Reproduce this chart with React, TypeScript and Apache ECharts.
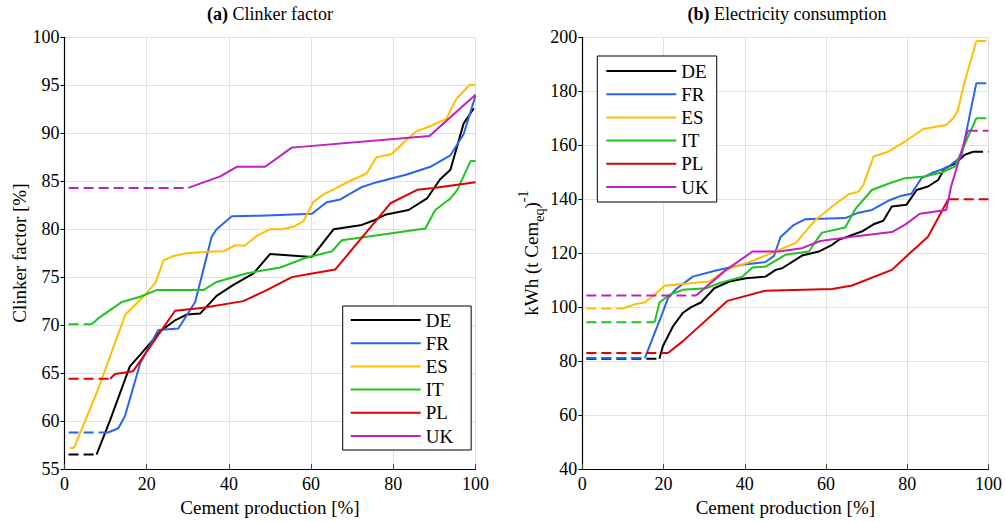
import React, { useEffect, useRef } from "react";
import * as echarts from "echarts";

// ---------- Data ----------
const COUNTRIES = ["DE", "FR", "ES", "IT", "PL", "UK"];

// (a) Clinker factor [%] vs cumulative cement production [%]
const CLK_DE_LEAD = [[1, 56.5], [7.8, 56.5]];
const CLK_DE = [[7.8, 56.5], [11.1, 60.1], [15.9, 65.7], [18.4, 66.9], [23.2, 69.3], [26.9, 70.5], [29.7, 71.1], [33.0, 71.2], [37.0, 73.05], [41.1, 74.2], [46.0, 75.4], [50.0, 77.4], [60.2, 77.1], [65.5, 80.0], [72.0, 80.4], [75.2, 80.9], [78.0, 81.5], [83.7, 82.0], [88.2, 83.2], [91.4, 85.2], [93.9, 86.2], [97.1, 91.0], [99.6, 92.6]];
const CLK_FR_LEAD = [[1, 58.8], [10.6, 58.8]];
const CLK_FR = [[10.6, 58.8], [13.1, 59.25], [14.7, 60.5], [18.4, 66.0], [22.8, 69.5], [27.7, 69.65], [31.8, 72.4], [35.8, 79.2], [37.0, 80.0], [40.7, 81.35], [47.6, 81.4], [60.2, 81.6], [63.8, 82.8], [67.1, 83.1], [72.4, 84.4], [76.0, 84.9], [83.3, 85.7], [89.0, 86.5], [93.9, 87.7], [97.1, 89.9], [100, 93.9]];
const CLK_ES_LEAD = [[1.3, 57.2], [2.3, 57.2]];
const CLK_ES = [[2.3, 57.2], [7.9, 63.0], [14.8, 71.1], [19.3, 73.0], [22.1, 74.4], [24.1, 76.75], [26.5, 77.2], [29.8, 77.5], [34.6, 77.65], [38.7, 77.7], [41.5, 78.3], [43.9, 78.3], [46.8, 79.3], [50.0, 80.0], [52.8, 80.0], [55.7, 80.25], [58.1, 80.8], [60.5, 82.8], [62.9, 83.6], [66.2, 84.3], [69.8, 85.1], [73.5, 85.8], [75.9, 87.5], [79.5, 87.8], [83.2, 89.3], [85.6, 90.2], [88.8, 90.7], [92.9, 91.5], [95.3, 93.56], [98.6, 95.05], [100, 95.05]];
const CLK_IT_LEAD = [[1, 70.1], [6.6, 70.1]];
const CLK_IT = [[6.6, 70.1], [8.2, 70.7], [13.9, 72.4], [18.4, 72.95], [22.4, 73.65], [33.8, 73.65], [37.0, 74.5], [44.4, 75.4], [52.5, 76.0], [58.6, 77.0], [65.1, 77.7], [67.5, 78.85], [87.8, 80.06], [90.2, 82.0], [93.9, 83.2], [95.5, 84.05], [98.8, 87.1], [100, 87.1]];
const CLK_PL_LEAD = [[1, 64.4], [11.1, 64.4]];
const CLK_PL = [[11.1, 64.4], [12.3, 64.9], [16.7, 65.2], [26.9, 71.5], [33.8, 71.8], [43.5, 72.5], [49.2, 73.65], [55.3, 75.0], [60.6, 75.4], [65.9, 75.8], [79.3, 82.7], [85.8, 84.1], [89.8, 84.3], [100, 84.9]];
const CLK_UK_LEAD = [[1, 84.3], [30.1, 84.3]];
const CLK_UK = [[30.1, 84.3], [37.9, 85.5], [41.9, 86.5], [48.8, 86.5], [55.3, 88.5], [88.8, 89.7], [100, 94.0]];

// (b) Electricity consumption [kWh (t Cem_eq)^-1]
const ELC_DE_LEAD = [[1, 80.85], [19.0, 80.85]];
const ELC_DE = [[19.0, 80.85], [19.8, 85.4], [22.3, 92.8], [24.7, 97.8], [26.8, 100.0], [29.2, 101.7], [32.5, 107.0], [36.2, 109.5], [40.3, 110.7], [45.1, 111.3], [47.6, 113.8], [49.2, 114.4], [54.1, 119.1], [58.2, 120.6], [61.5, 123.1], [63.1, 124.9], [68.8, 128.0], [71.7, 130.7], [74.1, 132.0], [76.2, 137.3], [79.8, 137.9], [82.3, 143.4], [85.1, 144.7], [87.6, 147.1], [89.2, 151.5], [91.7, 153.1], [94.1, 156.4], [96.2, 157.6]];
const ELC_DE_TAIL = [[96.2, 157.6], [100, 157.6]];
const ELC_FR_LEAD = [[1, 81.1], [15.4, 81.1]];
const ELC_FR = [[15.4, 81.1], [17.8, 90.4], [19.4, 96.5], [21.1, 103.3], [23.1, 106.7], [27.2, 111.3], [32.9, 113.6], [39.4, 115.7], [45.1, 116.7], [47.2, 119.0], [48.8, 126.0], [52.1, 130.5], [54.9, 132.6], [64.7, 133.0], [68.0, 135.0], [71.3, 136.0], [75.3, 139.4], [78.6, 141.3], [81.0, 142.0], [83.5, 147.8], [85.9, 149.6], [90.0, 151.85], [93.3, 155.8], [97.0, 183.0]];
const ELC_FR_TAIL = [[97.0, 183.0], [100, 183.0]];
const ELC_ES_LEAD = [[1, 99.5], [10.0, 99.5]];
const ELC_ES = [[10.0, 99.5], [13.3, 101.2], [15.4, 101.7], [17.8, 104.6], [20.2, 107.9], [24.7, 108.6], [31.3, 109.5], [35.4, 113.8], [41.9, 117.1], [48.4, 121.2], [52.5, 123.7], [57.4, 132.3], [61.5, 137.3], [65.6, 141.85], [68.0, 142.8], [69.2, 145.3], [71.7, 155.8], [75.3, 157.6], [79.4, 161.3], [83.9, 166.0], [89.6, 167.5], [91.3, 170.0], [92.5, 173.1], [93.7, 181.1], [97.0, 198.6]];
const ELC_ES_TAIL = [[97.0, 198.6], [100, 198.6]];
const ELC_IT_LEAD = [[1, 94.4], [17.8, 94.4]];
const ELC_IT = [[17.8, 94.4], [19.0, 101.7], [21.5, 104.6], [24.7, 106.4], [30.5, 107.0], [33.7, 108.9], [39.4, 111.3], [41.9, 114.7], [45.1, 115.0], [50.0, 119.4], [55.8, 120.6], [57.4, 124.3], [59.0, 127.6], [64.7, 129.5], [67.2, 136.3], [71.3, 143.4], [75.3, 145.7], [79.4, 147.8], [84.3, 148.4], [88.4, 149.9], [91.7, 152.1], [97.0, 170.0]];
const ELC_IT_TAIL = [[97.0, 170.0], [100, 170.0]];
const ELC_PL_LEAD = [[1, 83.0], [21.1, 83.0]];
const ELC_PL = [[21.1, 83.0], [24.7, 87.3], [35.7, 102.3], [45.1, 106.1], [61.5, 106.7], [66.4, 108.0], [76.2, 113.8], [80.2, 119.4], [85.1, 126.1], [90.0, 139.7], [90.2, 140.0]];
const ELC_PL_TAIL = [[90.2, 140.0], [100, 140.0]];
const ELC_UK_LEAD = [[1, 104.3], [28.0, 104.3]];
const ELC_UK = [[28.0, 104.3], [35.4, 113.8], [41.9, 120.6], [48.4, 120.6], [54.1, 121.85], [58.6, 124.5], [68.0, 126.4], [76.2, 127.8], [79.4, 130.5], [83.1, 134.6], [89.6, 136.0], [90.8, 144.7], [94.9, 165.4]];
const ELC_UK_TAIL = [[94.9, 165.4], [100, 165.4]];

// ---------- Styles ----------
const COLORS: Record<string, string> = {
  DE: "#000000",
  FR: "#2b63ef",
  ES: "#ffbf00",
  IT: "#1fc41f",
  PL: "#e00000",
  UK: "#c21ec2",
};
const FONT = "Liberation Serif";

type Pts = number[][];
const CLINKER: Record<string, { lead: Pts; main: Pts; tail?: Pts }> = {
  DE: { lead: CLK_DE_LEAD, main: CLK_DE },
  FR: { lead: CLK_FR_LEAD, main: CLK_FR },
  ES: { lead: CLK_ES_LEAD, main: CLK_ES },
  IT: { lead: CLK_IT_LEAD, main: CLK_IT },
  PL: { lead: CLK_PL_LEAD, main: CLK_PL },
  UK: { lead: CLK_UK_LEAD, main: CLK_UK },
};
const ELEC: Record<string, { lead: Pts; main: Pts; tail?: Pts }> = {
  DE: { lead: ELC_DE_LEAD, main: ELC_DE, tail: ELC_DE_TAIL },
  FR: { lead: ELC_FR_LEAD, main: ELC_FR, tail: ELC_FR_TAIL },
  ES: { lead: ELC_ES_LEAD, main: ELC_ES, tail: ELC_ES_TAIL },
  IT: { lead: ELC_IT_LEAD, main: ELC_IT, tail: ELC_IT_TAIL },
  PL: { lead: ELC_PL_LEAD, main: ELC_PL, tail: ELC_PL_TAIL },
  UK: { lead: ELC_UK_LEAD, main: ELC_UK, tail: ELC_UK_TAIL },
};

function line(name: string, data: Pts, color: string, dashed: boolean, idx: number) {
  return {
    type: "line",
    name,
    data,
    xAxisIndex: idx,
    yAxisIndex: idx,
    symbol: "circle",
    symbolSize: 0,
    showSymbol: false,
    silent: true,
    lineStyle: { color, width: 2, type: dashed ? [10, 5] : "solid" },
    itemStyle: { color },
    emphasis: { disabled: true },
  };
}

function buildSeries() {
  const out: any[] = [];
  [CLINKER, ELEC].forEach((set, idx) => {
    COUNTRIES.forEach((c) => {
      const s = set[c];
      out.push(line(c + " lead " + idx, s.lead, COLORS[c], true, idx));
      if (s.tail) out.push(line(c + " tail " + idx, s.tail, COLORS[c], true, idx));
      out.push(line(c, s.main, COLORS[c], false, idx));
    });
  });
  return out;
}

const tickLabel = {
  fontFamily: FONT,
  fontSize: 18,
  color: "#000",
  margin: 5,
  formatter: "{t|{value}}",
  rich: { t: { fontFamily: FONT, fontSize: 18, color: "#000" } },
};

function xAxis(idx: number) {
  return {
    type: "value",
    gridIndex: idx,
    min: 0,
    max: 100,
    interval: 20,
    name: "Cement production [%]",
    nameLocation: "middle",
    nameGap: 29,
    nameTextStyle: { fontFamily: FONT, fontSize: 19, color: "#000" },
    axisLine: { show: true, lineStyle: { color: "#000", width: 1.2 } },
    axisTick: { show: true, inside: true, length: 5, lineStyle: { color: "#444" } },
    axisLabel: { ...tickLabel, margin: 6 },
    splitLine: { show: true, lineStyle: { color: "#e0e0e0", width: 1 } },
  };
}

function legend(left: number, top: number, padding: number[]) {
  return {
    data: COUNTRIES,
    orient: "vertical",
    left,
    top,
    padding,
    itemWidth: 70,
    itemHeight: 20,
    itemGap: 3.2,
    selectedMode: false,
    backgroundColor: "#fff",
    borderColor: "#000",
    borderWidth: 1,
    borderRadius: 0,
    itemStyle: { opacity: 0, borderWidth: 0 },
    lineStyle: { width: 2 },
    formatter: "{n|{name}}",
    textStyle: {
      fontFamily: FONT,
      fontSize: 19,
      color: "#000",
      lineHeight: 20,
      rich: { n: { fontFamily: FONT, fontSize: 19, color: "#000", lineHeight: 20 } },
    },
  };
}

export default function App() {
  const ref = useRef<HTMLDivElement>(null);
  useEffect(() => {
    if (!ref.current) return;
    const chart = echarts.init(ref.current, undefined, { renderer: "svg" });
    chart.setOption({
      animation: false,
      backgroundColor: "#fff",
      textStyle: { fontFamily: FONT },
      grid: [
        { left: 64.5, top: 37.3, width: 411, height: 432 },
        { left: 582.3, top: 37.3, width: 408.7, height: 431.7 },
      ],
      xAxis: [xAxis(0), xAxis(1)],
      yAxis: [
        {
          type: "value",
          gridIndex: 0,
          min: 55,
          max: 100,
          interval: 5,
          name: "Clinker factor [%]",
          nameLocation: "middle",
          nameRotate: 90,
          nameGap: 31,
          nameTextStyle: { fontFamily: FONT, fontSize: 19, color: "#000" },
          axisLine: { show: true, lineStyle: { color: "#000", width: 1.2 } },
          axisTick: { show: true, inside: false, length: 4, lineStyle: { color: "#000" } },
          axisLabel: tickLabel,
          splitLine: { show: true, lineStyle: { color: "#e0e0e0", width: 1 } },
        },
        {
          type: "value",
          gridIndex: 1,
          min: 40,
          max: 200,
          interval: 20,
          name: "kWh (t Cem{sub|eq}){sup|-1}",
          nameLocation: "middle",
          nameRotate: 90,
          nameGap: 27,
          nameTextStyle: {
            fontFamily: FONT,
            fontSize: 19,
            color: "#000",
            lineHeight: 30,
            rich: {
              sub: { fontFamily: FONT, fontSize: 14, verticalAlign: "bottom", lineHeight: 18, color: "#000" },
              sup: { fontFamily: FONT, fontSize: 14, verticalAlign: "top", lineHeight: 14, color: "#000" },
            },
          },
          axisLine: { show: true, lineStyle: { color: "#000", width: 1.2 } },
          axisTick: { show: true, inside: false, length: 4, lineStyle: { color: "#000" } },
          axisLabel: tickLabel,
          splitLine: { show: true, lineStyle: { color: "#e0e0e0", width: 1 } },
        },
      ],
      legend: [legend(342.7, 306, [4, 18, 4, 7]), legend(597.3, 56, [5, 8, 5, 8])],
      graphic: [
        {
          type: "text",
          x: 270,
          y: 14,
          style: {
            text: "{b|(a)} Clinker factor",
            font: `18px ${FONT}`,
            fill: "#000",
            align: "center",
            verticalAlign: "middle",
            rich: { b: { fontFamily: FONT, fontSize: 18, fontWeight: "bold", fill: "#000" } },
          },
        },
        {
          type: "text",
          x: 787,
          y: 14,
          style: {
            text: "{b|(b)} Electricity consumption",
            font: `18px ${FONT}`,
            fill: "#000",
            align: "center",
            verticalAlign: "middle",
            rich: { b: { fontFamily: FONT, fontSize: 18, fontWeight: "bold", fill: "#000" } },
          },
        },
      ],
      series: buildSeries(),
    });
    return () => chart.dispose();
  }, []);
  return (
    <div
      ref={ref}
      style={{ position: "fixed", left: 0, top: 0, width: 1005, height: 522, background: "#fff" }}
    />
  );
}
